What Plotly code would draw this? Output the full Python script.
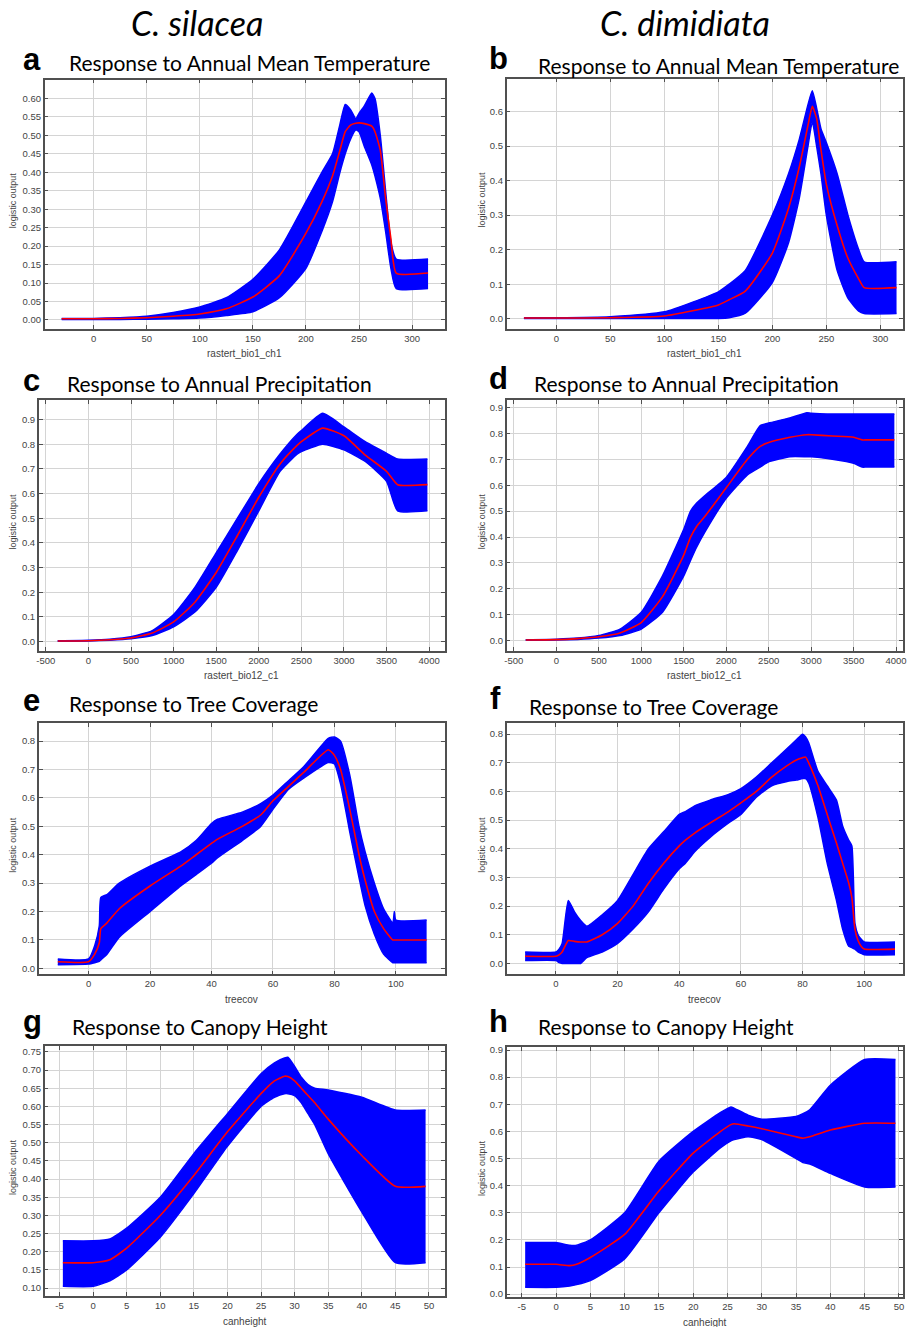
import plotly.graph_objects as go

W, H = 911, 1327

# ---------------- data ----------------
# a: C. silacea, annual mean temperature
a_x = [-30, 0, 25, 50, 75, 100, 125, 150, 175, 200, 215, 225, 232, 237, 242, 247, 250, 255, 262, 265, 270, 275, 280, 285, 315]
a_mean = [0.003, 0.003, 0.004, 0.006, 0.01, 0.016, 0.03, 0.062, 0.12, 0.235, 0.32, 0.39, 0.46, 0.51, 0.528, 0.533, 0.534, 0.532, 0.525, 0.51, 0.46, 0.33, 0.22, 0.127, 0.127]
a_hi = [0.004, 0.004, 0.006, 0.01, 0.02, 0.035, 0.06, 0.11, 0.19, 0.32, 0.40, 0.45, 0.53, 0.584, 0.57, 0.545, 0.56, 0.58, 0.615, 0.60, 0.50, 0.35, 0.21, 0.165, 0.165]
a_lo = [0.001, 0.001, 0.001, 0.002, 0.003, 0.005, 0.012, 0.022, 0.06, 0.14, 0.24, 0.32, 0.40, 0.45, 0.49, 0.515, 0.51, 0.47, 0.42, 0.39, 0.33, 0.24, 0.14, 0.085, 0.085]

# b: C. dimidiata, annual mean temperature
b_x = [-30, 0, 50, 100, 150, 160, 175, 200, 215, 225, 233, 237, 241, 245, 250, 260, 270, 280, 285, 315]
b_mean = [0.002, 0.002, 0.003, 0.008, 0.04, 0.055, 0.08, 0.19, 0.32, 0.44, 0.56, 0.615, 0.58, 0.49, 0.39, 0.27, 0.175, 0.115, 0.09, 0.09]
b_hi = [0.003, 0.003, 0.006, 0.02, 0.078, 0.10, 0.14, 0.30, 0.42, 0.52, 0.62, 0.66, 0.61, 0.55, 0.51, 0.42, 0.30, 0.20, 0.165, 0.165]
b_lo = [0.001, 0.001, 0.001, 0.001, 0.001, 0.003, 0.016, 0.105, 0.22, 0.35, 0.50, 0.57, 0.50, 0.42, 0.30, 0.14, 0.06, 0.022, 0.015, 0.015]

# c: C. silacea, annual precipitation
c_x = [-360, 0, 250, 500, 750, 1000, 1250, 1500, 1750, 2000, 2250, 2450, 2500, 2750, 3000, 3250, 3500, 3630, 3980]
c_mean = [0.003, 0.004, 0.008, 0.015, 0.035, 0.08, 0.16, 0.28, 0.43, 0.585, 0.72, 0.795, 0.81, 0.865, 0.834, 0.756, 0.69, 0.636, 0.636]
c_hi = [0.004, 0.006, 0.01, 0.02, 0.045, 0.11, 0.22, 0.36, 0.50, 0.64, 0.76, 0.84, 0.855, 0.925, 0.87, 0.81, 0.763, 0.74, 0.74]
c_lo = [0.002, 0.003, 0.006, 0.012, 0.025, 0.06, 0.12, 0.22, 0.37, 0.53, 0.69, 0.76, 0.77, 0.80, 0.777, 0.73, 0.65, 0.53, 0.53]

# d: C. dimidiata, annual precipitation
d_x = [-360, 0, 250, 500, 750, 1000, 1250, 1500, 1580, 1650, 1750, 2000, 2250, 2400, 2500, 2750, 2950, 3000, 3250, 3500, 3600, 3650, 3980]
d_mean = [0.003, 0.004, 0.008, 0.015, 0.03, 0.07, 0.17, 0.33, 0.40, 0.44, 0.48, 0.59, 0.70, 0.75, 0.765, 0.785, 0.795, 0.795, 0.79, 0.785, 0.775, 0.775, 0.775]
d_hi = [0.004, 0.006, 0.01, 0.02, 0.045, 0.11, 0.25, 0.43, 0.50, 0.53, 0.56, 0.63, 0.75, 0.83, 0.84, 0.86, 0.88, 0.878, 0.875, 0.875, 0.875, 0.875, 0.875]
d_lo = [0.002, 0.003, 0.005, 0.01, 0.02, 0.045, 0.11, 0.25, 0.31, 0.36, 0.42, 0.55, 0.64, 0.67, 0.69, 0.71, 0.71, 0.71, 0.70, 0.685, 0.67, 0.67, 0.67]

# e: C. silacea, tree coverage
e_x = [-10, 0, 2, 3.5, 4, 6, 10, 20, 30, 35, 40, 42, 50, 56, 60, 65, 70, 78, 80, 82, 85, 88, 90, 93, 96, 99, 99.5, 100, 110]
e_mean = [0.023, 0.023, 0.05, 0.09, 0.14, 0.16, 0.21, 0.29, 0.36, 0.40, 0.44, 0.455, 0.50, 0.54, 0.59, 0.64, 0.69, 0.77, 0.75, 0.70, 0.56, 0.40, 0.31, 0.20, 0.14, 0.10, 0.10, 0.10, 0.10]
e_hi = [0.033, 0.033, 0.08, 0.15, 0.25, 0.26, 0.30, 0.36, 0.41, 0.45, 0.51, 0.525, 0.55, 0.58, 0.61, 0.66, 0.71, 0.81, 0.815, 0.80, 0.68, 0.50, 0.41, 0.30, 0.21, 0.16, 0.20, 0.17, 0.17]
e_lo = [0.013, 0.015, 0.02, 0.025, 0.03, 0.05, 0.11, 0.20, 0.29, 0.33, 0.37, 0.39, 0.45, 0.50, 0.56, 0.63, 0.67, 0.725, 0.72, 0.65, 0.48, 0.32, 0.22, 0.12, 0.05, 0.02, 0.02, 0.02, 0.02]

# f: C. dimidiata, tree coverage
f_x = [-10, 0, 1, 2, 4, 6, 8, 10, 15, 20, 25, 30, 35, 40, 42, 45, 50, 56, 60, 65, 70, 75, 78, 80, 81, 82, 85, 88, 91, 93, 95, 96, 97, 98, 99, 100, 110]
f_mean = [0.025, 0.025, 0.03, 0.04, 0.08, 0.077, 0.075, 0.075, 0.10, 0.14, 0.20, 0.28, 0.35, 0.41, 0.43, 0.455, 0.49, 0.53, 0.56, 0.60, 0.65, 0.69, 0.71, 0.718, 0.72, 0.70, 0.62, 0.52, 0.42, 0.35, 0.28, 0.23, 0.12, 0.08, 0.06, 0.05, 0.05]
f_hi = [0.04, 0.04, 0.05, 0.07, 0.22, 0.18, 0.15, 0.13, 0.17, 0.22, 0.31, 0.40, 0.46, 0.52, 0.53, 0.55, 0.57, 0.59, 0.61, 0.65, 0.70, 0.75, 0.78, 0.80, 0.79, 0.77, 0.67, 0.62, 0.57, 0.48, 0.43, 0.41, 0.14, 0.10, 0.085, 0.075, 0.075]
f_lo = [0.01, 0.01, 0.003, 0.0, 0.0, 0.0, 0.0, 0.02, 0.04, 0.07, 0.12, 0.18, 0.26, 0.33, 0.35, 0.39, 0.44, 0.49, 0.52, 0.58, 0.62, 0.635, 0.64, 0.645, 0.645, 0.63, 0.51, 0.35, 0.22, 0.12, 0.06, 0.055, 0.05, 0.04, 0.035, 0.03, 0.03]

# g: C. silacea, canopy height
g_x = [-4.5, 0, 2.5, 5, 10, 15, 20, 25, 27, 28.5, 29, 30, 31, 32, 33, 35, 40, 45, 49.5]
g_mean = [0.17, 0.17, 0.178, 0.21, 0.30, 0.41, 0.53, 0.635, 0.67, 0.683, 0.682, 0.67, 0.65, 0.63, 0.61, 0.565, 0.465, 0.38, 0.38]
g_hi = [0.23, 0.23, 0.235, 0.265, 0.35, 0.47, 0.58, 0.69, 0.72, 0.733, 0.735, 0.71, 0.68, 0.66, 0.65, 0.645, 0.625, 0.59, 0.59]
g_lo = [0.105, 0.105, 0.12, 0.15, 0.24, 0.36, 0.49, 0.60, 0.625, 0.635, 0.635, 0.63, 0.61, 0.58, 0.55, 0.47, 0.31, 0.17, 0.17]

# h: C. dimidiata, canopy height
h_x = [-4.5, 0, 2, 3, 5, 10, 15, 20, 24, 25.5, 26, 28, 30, 35, 36, 37, 40, 45, 49.5]
h_mean = [0.11, 0.11, 0.105, 0.11, 0.135, 0.22, 0.38, 0.52, 0.60, 0.625, 0.628, 0.62, 0.61, 0.58, 0.575, 0.58, 0.605, 0.63, 0.63]
h_hi = [0.19, 0.19, 0.18, 0.18, 0.20, 0.30, 0.49, 0.60, 0.67, 0.69, 0.685, 0.66, 0.645, 0.655, 0.665, 0.68, 0.77, 0.865, 0.865]
h_lo = [0.025, 0.025, 0.03, 0.035, 0.05, 0.13, 0.30, 0.45, 0.54, 0.565, 0.57, 0.58, 0.57, 0.50, 0.485, 0.48, 0.445, 0.395, 0.395]

species = ["C. silacea", "C. dimidiata"]
letters = ["a", "b", "c", "d", "e", "f", "g", "h"]
titles = ["Response to Annual Mean Temperature", "Response to Annual Mean Temperature",
          "Response to Annual Precipitation", "Response to Annual Precipitation",
          "Response to Tree Coverage", "Response to Tree Coverage",
          "Response to Canopy Height", "Response to Canopy Height"]
x_titles = ["rastert_bio1_ch1", "rastert_bio1_ch1", "rastert_bio12_c1", "rastert_bio12_c1",
            "treecov", "treecov", "canheight", "canheight"]
y_title = "logistic output"

# ---------------- layout geometry (pixels) ----------------
panels = [
    dict(x=a_x, m=a_mean, hi=a_hi, lo=a_lo, box=(43, 446, 77, 327), xr=[-46, 331], yr=[-0.024, 0.651],
         xt=list(range(0, 301, 50)), yt=[i * 0.05 for i in range(13)], yf=".2f"),
    dict(x=b_x, m=b_mean, hi=b_hi, lo=b_lo, box=(508, 907, 76, 327), xr=[-46, 321], yr=[-0.029, 0.695],
         xt=list(range(0, 301, 50)), yt=[i * 0.1 for i in range(7)], yf=".1f"),
    dict(x=c_x, m=c_mean, hi=c_hi, lo=c_lo, box=(37, 446, 399, 650), xr=[-583, 4187], yr=[-0.036, 0.977],
         xt=list(range(-500, 4001, 500)), yt=[i * 0.1 for i in range(10)], yf=".1f"),
    dict(x=d_x, m=d_mean, hi=d_hi, lo=d_lo, box=(508, 907, 399, 650), xr=[-585, 4082], yr=[-0.038, 0.927],
         xt=list(range(-500, 4001, 500)), yt=[i * 0.1 for i in range(10)], yf=".1f"),
    dict(x=e_x, m=e_mean, hi=e_hi, lo=e_lo, box=(37, 446, 723, 975), xr=[-16.2, 116], yr=[-0.021, 0.863],
         xt=list(range(0, 101, 20)), yt=[i * 0.1 for i in range(9)], yf=".1f"),
    dict(x=f_x, m=f_mean, hi=f_hi, lo=f_lo, box=(508, 907, 723, 975), xr=[-16, 112.6], yr=[-0.038, 0.838],
         xt=list(range(0, 101, 20)), yt=[i * 0.1 for i in range(9)], yf=".1f"),
    dict(x=g_x, m=g_mean, hi=g_hi, lo=g_lo, box=(43, 446, 1047, 1298), xr=[-7.2, 52.4], yr=[0.078, 0.766],
         xt=list(range(-5, 51, 5)), yt=[0.10 + i * 0.05 for i in range(14)], yf=".2f"),
    dict(x=h_x, m=h_mean, hi=h_hi, lo=h_lo, box=(508, 907, 1048, 1299), xr=[-7.2, 50.6], yr=[-0.011, 0.911],
         xt=list(range(-5, 51, 5)), yt=[i * 0.1 for i in range(10)], yf=".1f"),
]
letter_pos = [(30, 57), (500, 56), (30, 379), (500, 377), (30, 700), (497, 698), (31, 1022), (500, 1022)]
title_pos = [(65, 60), (538, 63), (63, 382), (534, 382), (65, 703), (528, 706), (68, 1027), (538, 1027)]
ytitle_x = [11, 483, 11, 483, 11, 483, 11, 483]


def px(x):
    return x / W


def py(y):
    return 1 - y / H


fig = go.Figure()
annotations = []
BLUE = "#0000ff"
RED = "#ff0000"
tick_font = dict(family="Liberation Sans, Arial, sans-serif", size=9.5, color="#444444")

for i, p in enumerate(panels):
    n = i + 1
    xa = "x" if n == 1 else f"x{n}"
    ya = "y" if n == 1 else f"y{n}"
    fig.add_trace(go.Scatter(x=p["x"], y=p["lo"], mode="lines",
                             line=dict(color=BLUE, width=1.5, shape="spline", smoothing=0.5),
                             xaxis=xa, yaxis=ya, showlegend=False, hoverinfo="skip"))
    fig.add_trace(go.Scatter(x=p["x"], y=p["hi"], mode="lines",
                             line=dict(color=BLUE, width=1.5, shape="spline", smoothing=0.5),
                             fill="tonexty", fillcolor=BLUE, xaxis=xa, yaxis=ya, showlegend=False, hoverinfo="skip"))
    fig.add_trace(go.Scatter(x=p["x"], y=p["m"], mode="lines",
                             line=dict(color=RED, width=1.6, shape="spline", smoothing=0.5),
                             xaxis=xa, yaxis=ya, showlegend=False))
    l, r, t, b = p["box"]
    axis_common = dict(showgrid=True, gridcolor="#d4d4d4", gridwidth=1, zeroline=False,
                       showline=True, linecolor="#505050", linewidth=1.5, mirror="allticks",
                       ticks="inside", ticklen=4, tickcolor="#505050", tickfont=tick_font)
    fig.layout[("xaxis" if n == 1 else f"xaxis{n}")] = dict(
        domain=[px(l), px(r)], range=p["xr"], anchor=ya, tickvals=p["xt"],
        ticktext=[str(v) for v in p["xt"]], **axis_common)
    fig.layout[("yaxis" if n == 1 else f"yaxis{n}")] = dict(
        domain=[py(b), py(t)], range=p["yr"], anchor=xa, tickvals=p["yt"],
        ticktext=[format(v, p["yf"]) for v in p["yt"]], **axis_common)

    # panel letter and title
    lx, ly = letter_pos[i]
    annotations.append(dict(text="<b>" + letters[i] + "</b>", x=px(lx), y=py(ly), xref="paper", yref="paper",
                            xanchor="center", yanchor="middle", showarrow=False,
                            font=dict(family="Liberation Sans, Arial, sans-serif", size=31, color="black")))
    tx, ty = title_pos[i]
    annotations.append(dict(text=titles[i], x=px(tx), y=py(ty), xref="paper", yref="paper",
                            xanchor="left", yanchor="middle", showarrow=False,
                            font=dict(family="Lato, Open Sans, sans-serif", size=21, color="black")))
    # axis titles
    annotations.append(dict(text=x_titles[i], x=px((l + r) / 2), y=py(b + 25), xref="paper", yref="paper",
                            xanchor="center", yanchor="middle", showarrow=False,
                            font=dict(family="Liberation Sans, Arial, sans-serif", size=10, color="#444444")))
    annotations.append(dict(text=y_title, x=px(ytitle_x[i]), y=py((t + b) / 2 - 4),
                            xref="paper", yref="paper", textangle=-90,
                            xanchor="center", yanchor="middle", showarrow=False,
                            font=dict(family="Liberation Sans, Arial, sans-serif", size=9, color="#444444")))

# species headers
annotations.append(dict(text="<i>" + species[0] + "</i>", x=px(196), y=py(20), xref="paper", yref="paper",
                        xanchor="center", yanchor="middle", showarrow=False,
                        font=dict(family="Lato, Open Sans, sans-serif", size=34, color="black")))
annotations.append(dict(text="<i>" + species[1] + "</i>", x=px(688), y=py(20), xref="paper", yref="paper",
                        xanchor="center", yanchor="middle", showarrow=False,
                        font=dict(family="Lato, Open Sans, sans-serif", size=34, color="black")))

fig.update_layout(width=W, height=H, margin=dict(l=0, r=0, t=0, b=0),
                  paper_bgcolor="white", plot_bgcolor="white", annotations=annotations)

fig.write_html("out.html", config={"displayModeBar": False},
               post_script="document.body.style.margin='0';document.body.style.overflow='hidden';")
